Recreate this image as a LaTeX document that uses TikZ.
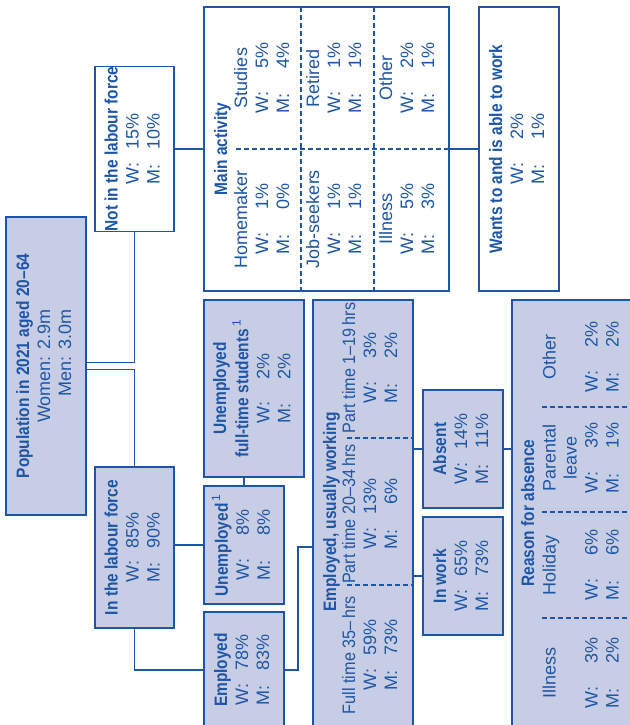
\documentclass[tikz,border=0pt]{standalone}
\usepackage{fontspec}
\setmainfont{Liberation Sans}[BoldFeatures={FakeStretch=0.86}]
\newfontfamily\narrowfont{Liberation Sans}[Ligatures=TeX, FakeStretch=0.9]
\usepackage{graphicx}
\definecolor{ink}{RGB}{30,86,165}
\definecolor{pale}{RGB}{200,205,230}
\newcommand\wm[2]{\makebox[1.7em][l]{#1:}\makebox[2.2em][r]{#2\%}}
\newcommand\rot[1]{\rotatebox{90}{\begin{tabular}{@{}c@{}}#1\end{tabular}}}
\tikzset{
  box/.style={draw=ink, fill=pale, line width=0.75pt, inner sep=0pt, text=ink},
  wbox/.style={box, fill=white},
  dims/.style 2 args={minimum width=#1*0.5pt, minimum height=#2*0.5pt},
  lbl/.style={text=ink, inner sep=0pt},
  link/.style={draw=ink, line width=0.6pt},
  split/.style={draw=ink, line width=0.6pt, dash pattern=on 2.5pt off 1.5pt}
}
\begin{document}
\begin{tikzpicture}[x=0.5pt, y=-0.5pt, font=\fontsize{9}{10.5}\selectfont]
  \useasboundingbox (0,0) rectangle (630,725);
  \clip (0,0) rectangle (630,725);
  \coordinate (bend) at (298,547);

  \node[box, dims={80}{298}] (pop) at (46,366) {\rot{\textbf{Population in 2021 aged 20--64}\\ Women: 2.9m\\ \hphantom{Wo}Men: 3.0m}};
  \node[wbox, dims={79}{162}] (notlf) at (134.5,149) {\rot{\textbf{Not in the labour force}\\ \wm{W}{15}\\ \wm{M}{10}}};
  \node[wbox, dims={245}{284}] (mainact) at (326.5,149) {};
  \node[wbox, dims={80}{284}] (wants) at (519,149) {\rot{\textbf{Wants to and is able to work}\\ \wm{W}{2}\\ \wm{M}{1}}};
  \node[box, dims={79}{161}] (inlf) at (134.5,547.5) {\rot{\textbf{In the labour force}\\ \wm{W}{85}\\ \wm{M}{90}}};
  \node[box, dims={80}{118}] (unemp) at (244,545) {\rot{\textbf{Unemployed}\textsuperscript{\,\normalfont 1}\\ \wm{W}{8}\\ \wm{M}{8}}};
  \node[box, dims={100}{177}] (students) at (254,388.5) {\rot{\textbf{Unemployed}\\ \textbf{full-time students}\textsuperscript{\,\normalfont 1}\\ \wm{W}{2}\\ \wm{M}{2}}};
  \node[box, dims={80}{116}] (employed) at (244,670) {\rot{\textbf{Employed}\\ \wm{W}{78}\\ \wm{M}{83}}};
  \node[box, dims={100}{430}] (usual) at (363,515) {};
  \node[box, dims={80}{118}] (inwork) at (463,576) {\rot{\textbf{In work}\\ \wm{W}{65}\\ \wm{M}{73}}};
  \node[box, dims={80}{118}] (absent) at (463,449) {\rot{\textbf{Absent}\\ \wm{W}{14}\\ \wm{M}{11}}};
  \node[box, dims={128}{430}] (reason) at (576,515) {};

  \node[lbl] (maintitle) at (223,149) {\rot{\textbf{Main activity}}};
  \node[lbl] (homemaker) at (264,219) {\rot{Homemaker\\ \wm{W}{1}\\ \wm{M}{0}}};
  \node[lbl] (studies) at (264,78) {\rot{Studies\\ \wm{W}{5}\\ \wm{M}{4}}};
  \node[lbl] (jobseek) at (336,219) {\rot{Job-seekers\\ \wm{W}{1}\\ \wm{M}{1}}};
  \node[lbl] (retired) at (336,78) {\rot{Retired\\ \wm{W}{1}\\ \wm{M}{1}}};
  \node[lbl] (illnessact) at (409,219) {\rot{Illness\\ \wm{W}{5}\\ \wm{M}{3}}};
  \node[lbl] (otheract) at (409,78) {\rot{Other\\ \wm{W}{2}\\ \wm{M}{1}}};
  \draw[split] (301,7) -- (301,291);
  \draw[split] (374,7) -- (374,291);
  \draw[split] (236,149) -- (449,149);

  \node[lbl] (usualtitle) at (332,512) {\rot{\textbf{Employed, usually working}}};
  \node[lbl] (fulltime) at (372,655) {\rot{{\narrowfont Full time 35--\,hrs}\\ \wm{W}{59}\\ \wm{M}{73}}};
  \node[lbl] (parttimea) at (372,514) {\rot{{\narrowfont Part time 20--34\,hrs}\\ \wm{W}{13}\\ \wm{M}{6}}};
  \node[lbl] (parttimeb) at (372,368) {\rot{{\narrowfont Part time 1--19\,hrs}\\ \wm{W}{3}\\ \wm{M}{2}}};
  \draw[split] (347,585) -- (413,585);
  \draw[split] (347,438) -- (413,438);

  \node[lbl] (reasontitle) at (530,513) {\rot{\textbf{Reason for absence}}};
  \node[lbl] (illness) at (583,673) {\rot{Illness\\ \\ \wm{W}{3}\\ \wm{M}{2}}};
  \node[lbl] (holiday) at (583,565) {\rot{Holiday\\ \\ \wm{W}{6}\\ \wm{M}{6}}};
  \node[lbl] (parental) at (583,458) {\rot{Parental\\ leave\\ \wm{W}{3}\\ \wm{M}{1}}};
  \node[lbl] (otherabs) at (583,357) {\rot{Other\\ \\ \wm{W}{2}\\ \wm{M}{2}}};
  \draw[split] (542,618) -- (640,618);
  \draw[split] (542,512) -- (640,512);
  \draw[split] (542,407) -- (640,407);

  \draw[link] (pop.east) ++(0,-3.5) -| (notlf.south);
  \draw[link] (pop.east) ++(0,3.5) -| (inlf.north);
  \draw[link] (notlf.east) -- (mainact.west);
  \draw[link] (mainact.east) -- (wants.west);
  \draw[link] (inlf.east |- unemp.west) -- (unemp.west);
  \draw[link] (inlf.south) |- (employed.west);
  \draw[link] (unemp.north) -- (unemp.north |- students.south);
  \draw[link] (employed.east) -| (bend) -- (bend -| usual.west);
  \draw[link] (usual.east |- inwork.west) -- (inwork.west);
  \draw[link] (usual.east |- absent.west) -- (absent.west);
  \draw[link] (absent.east) -- (absent.east -| reason.west);
\end{tikzpicture}
\end{document}
